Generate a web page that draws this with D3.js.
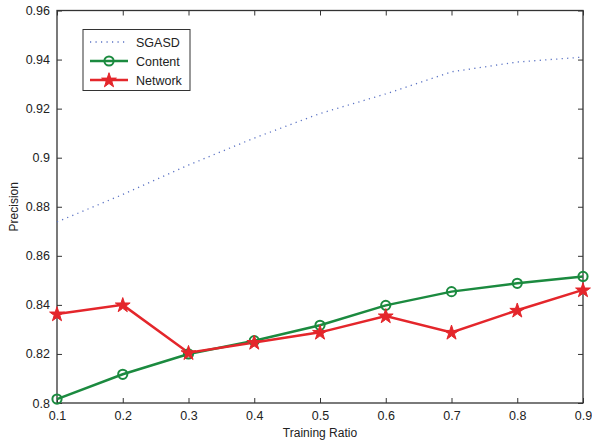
<!DOCTYPE html>
<html><head><meta charset="utf-8">
<script src="https://cdn.jsdelivr.net/npm/d3@7"></script>
<style>body{margin:0;background:#fff}text{font-family:"Liberation Sans",Arial,sans-serif;fill:#222}</style>
</head><body><svg id="c" width="592" height="443"></svg>
<script>
const ratios = [0.1,0.2,0.3,0.4,0.5,0.6,0.7,0.8,0.9];
const sgasd = [0.8738,0.885,0.897,0.908,0.918,0.926,0.935,0.939,0.941];
const content = [0.8016,0.8117,0.8200,0.8254,0.8317,0.8398,0.8454,0.8488,0.8516];
const network = [0.8363,0.8400,0.8205,0.8247,0.8288,0.8355,0.8288,0.8378,0.8461];
const xTicks = [0.1,0.2,0.3,0.4,0.5,0.6,0.7,0.8,0.9];
const yTicks = [0.8,0.82,0.84,0.86,0.88,0.9,0.92,0.94,0.96];
const seriesNames = ["SGASD","Content","Network"];

const svg = d3.select("#c");
const L=57,R=583,T=10.5,B=403;
const x = d3.scaleLinear().domain([0.1,0.9]).range([L,R]);
const y = d3.scaleLinear().domain([0.8,0.96]).range([B,T]);
const axCol="#333";
const fmt = d => String(+d.toFixed(2));

svg.append("g").attr("transform",`translate(0,${B})`)
  .call(d3.axisBottom(x).tickValues(xTicks).tickFormat(fmt).tickSizeInner(-5).tickSizeOuter(0).tickPadding(8))
  .call(g=>{g.select(".domain").remove();g.selectAll("line").attr("stroke",axCol);g.selectAll("text").attr("font-size",12.5).attr("fill","#222");});
svg.append("g").attr("transform",`translate(0,${T})`)
  .call(d3.axisTop(x).tickValues(xTicks).tickFormat("").tickSizeInner(-5).tickSizeOuter(0))
  .call(g=>{g.select(".domain").remove();g.selectAll("line").attr("stroke",axCol);});
svg.append("g").attr("transform",`translate(${L},0)`)
  .call(d3.axisLeft(y).tickValues(yTicks).tickFormat(fmt).tickSizeInner(-5).tickSizeOuter(0).tickPadding(7))
  .call(g=>{g.select(".domain").remove();g.selectAll("line").attr("stroke",axCol);g.selectAll("text").attr("font-size",12.5).attr("fill","#222");});
svg.append("g").attr("transform",`translate(${R},0)`)
  .call(d3.axisRight(y).tickValues(yTicks).tickFormat("").tickSizeInner(-5).tickSizeOuter(0))
  .call(g=>{g.select(".domain").remove();g.selectAll("line").attr("stroke",axCol);});
svg.append("rect").attr("x",L).attr("y",T).attr("width",R-L).attr("height",B-T)
  .attr("fill","none").attr("stroke",axCol).attr("stroke-width",1.3);

svg.append("text").attr("x",(L+R)/2).attr("y",437).attr("text-anchor","middle").attr("font-size",12).text("Training Ratio");
svg.append("text").attr("transform",`translate(18,${(T+B)/2}) rotate(-90)`).attr("text-anchor","middle").attr("font-size",12).text("Precision");

const line = d3.line().x((d,i)=>x(ratios[i])).y(d=>y(d));
const blue="#5b73c4", green="#1b8a3f", red="#e4262b";
svg.append("path").datum(sgasd).attr("d",line).attr("fill","none").attr("stroke",blue).attr("stroke-width",1.3).attr("stroke-dasharray","1.2,4.3");
svg.append("path").datum(content).attr("d",line).attr("fill","none").attr("stroke",green).attr("stroke-width",2.5);
svg.append("path").datum(network).attr("d",line).attr("fill","none").attr("stroke",red).attr("stroke-width",2.5);

const star = d3.symbol().type(d3.symbolStar).size(68);
svg.selectAll(".circ").data(content).join("circle").attr("cx",(d,i)=>x(ratios[i])).attr("cy",d=>y(d)).attr("r",4.6)
  .attr("fill","none").attr("stroke",green).attr("stroke-width",2);
svg.selectAll(".star").data(network).join("path").attr("d",star)
  .attr("transform",(d,i)=>`translate(${x(ratios[i])},${y(d)+0.5})`).attr("fill",red).attr("stroke",red).attr("stroke-width",1);

// legend
const lg = svg.append("g");
lg.append("rect").attr("x",83).attr("y",29.5).attr("width",107).attr("height",61).attr("fill","#fff").attr("stroke",axCol).attr("stroke-width",1);
const ly=[42,61,80];
lg.append("line").attr("x1",90).attr("x2",128).attr("y1",ly[0]).attr("y2",ly[0]).attr("stroke",blue).attr("stroke-width",1.3).attr("stroke-dasharray","1.2,4.3");
lg.append("line").attr("x1",90).attr("x2",128).attr("y1",ly[1]).attr("y2",ly[1]).attr("stroke",green).attr("stroke-width",2.5);
lg.append("circle").attr("cx",109).attr("cy",ly[1]).attr("r",4.6).attr("fill","none").attr("stroke",green).attr("stroke-width",2);
lg.append("line").attr("x1",90).attr("x2",128).attr("y1",ly[2]).attr("y2",ly[2]).attr("stroke",red).attr("stroke-width",2.5);
lg.append("path").attr("d",star).attr("transform",`translate(109,${ly[2]+0.5})`).attr("fill",red).attr("stroke",red).attr("stroke-width",1);
seriesNames.forEach((n,i)=>lg.append("text").attr("x",136).attr("y",ly[i]+4.5).attr("font-size",12.5).text(n));
</script></body></html>
